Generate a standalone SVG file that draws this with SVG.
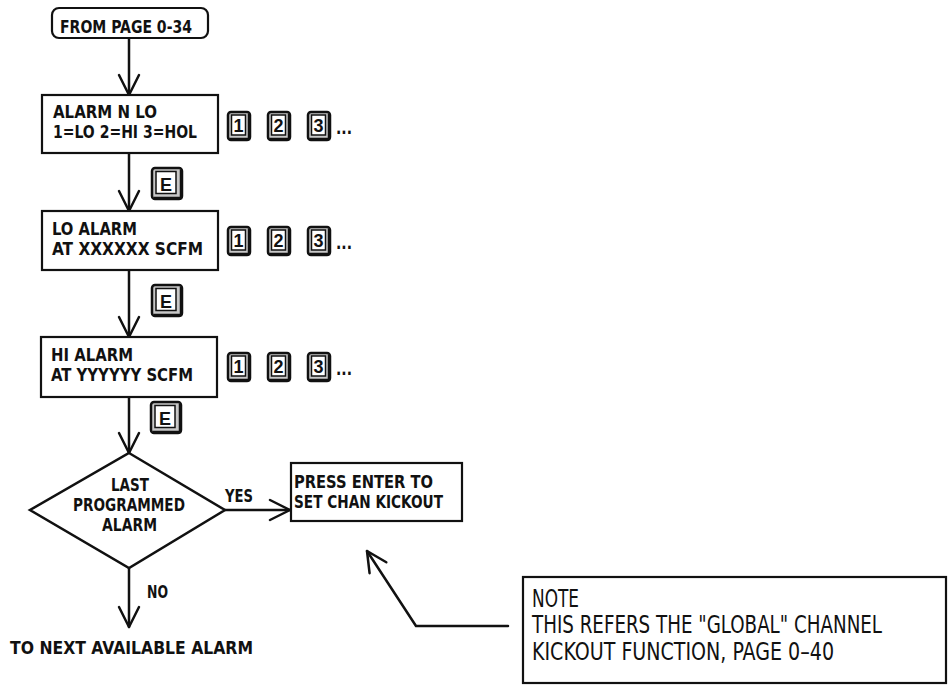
<svg xmlns="http://www.w3.org/2000/svg" width="949" height="686" viewBox="0 0 949 686">
<defs>
<style>
.bx{fill:#fff;stroke:#111;stroke-width:2.2}
.ln{fill:none;stroke:#111;stroke-width:2.5;stroke-linecap:round;stroke-linejoin:round}
.t{font-family:"Liberation Sans Narrow","DejaVu Sans Condensed","Liberation Sans",sans-serif;font-weight:bold;fill:#111;font-size:18px}
.n{font-family:"Liberation Sans Narrow","DejaVu Sans Condensed","Liberation Sans",sans-serif;fill:#111;font-size:24px}
.ko{fill:#c8c8c8;stroke:#111;stroke-width:2.5}
.ki{fill:#fff;stroke:#111;stroke-width:1.5}
.kt{font-family:"Liberation Sans",Arial,sans-serif;font-weight:bold;fill:#111;font-size:18px;text-anchor:middle}
</style>
<marker id="ah" viewBox="0 0 24 24" refX="22" refY="12" markerWidth="24" markerHeight="24" markerUnits="userSpaceOnUse" orient="auto">
<path d="M2,2 L22,12 L2,22" fill="none" stroke="#111" stroke-width="2.5" stroke-linecap="round" stroke-linejoin="round"/>
</marker>
<g id="key">
<rect class="ko" x="0" y="0" width="22" height="28" rx="3"/>
<rect class="ki" x="3.5" y="3" width="14" height="20"/>
<path d="M1.5,27 L21,27 L21,2" fill="none" stroke="#111" stroke-width="2.5"/>
</g>
<g id="ekey">
<rect class="ko" x="0" y="0" width="30" height="31" rx="3"/>
<rect class="ki" x="4" y="3.5" width="20" height="22"/>
<path d="M2,30 L29,30 L29,2" fill="none" stroke="#111" stroke-width="2.5"/>
</g>
</defs>
<rect width="949" height="686" fill="#fff"/>

<g id="connectors">
<line class="ln" x1="129" y1="38" x2="129" y2="95" marker-end="url(#ah)"/>
<line class="ln" x1="129" y1="153" x2="129" y2="211" marker-end="url(#ah)"/>
<line class="ln" x1="129" y1="270" x2="129" y2="337" marker-end="url(#ah)"/>
<line class="ln" x1="129" y1="397" x2="129" y2="453" marker-end="url(#ah)"/>
<line class="ln" x1="225" y1="510" x2="290" y2="510" marker-end="url(#ah)"/>
<line class="ln" x1="129" y1="568" x2="129" y2="627" marker-end="url(#ah)"/>
<polyline class="ln" points="508,626 416,626 367,551" marker-end="url(#ah)"/>
<text class="t" x="225" y="502" textLength="28" lengthAdjust="spacingAndGlyphs">YES</text>
<text class="t" x="147" y="598" textLength="21" lengthAdjust="spacingAndGlyphs">NO</text>
</g>

<g id="start">
<rect class="bx" x="52" y="8" width="156" height="30" rx="7"/>
<text class="t" x="60" y="33" textLength="132" lengthAdjust="spacingAndGlyphs">FROM PAGE 0-34</text>
</g>

<g id="alarm-n">
<rect class="bx" x="42" y="95" width="176" height="58"/>
<text class="t" x="53" y="118" textLength="104" lengthAdjust="spacingAndGlyphs">ALARM N LO</text>
<text class="t" x="53" y="138" textLength="144" lengthAdjust="spacingAndGlyphs">1=LO 2=HI 3=HOL</text>
</g>
<g id="keys1">
<use href="#key" x="228" y="112"/><text class="kt" x="238.5" y="132">1</text>
<use href="#key" x="268" y="112"/><text class="kt" x="278.5" y="132">2</text>
<use href="#key" x="308" y="112"/><text class="kt" x="318.5" y="132">3</text>
<text class="t" x="336" y="134" textLength="16" lengthAdjust="spacingAndGlyphs">...</text>
</g>
<g id="e1"><use href="#ekey" x="152" y="168"/><text class="kt" x="166" y="191">E</text></g>

<g id="lo-alarm">
<rect class="bx" x="42" y="211" width="176" height="59"/>
<text class="t" x="52" y="235" textLength="85" lengthAdjust="spacingAndGlyphs">LO ALARM</text>
<text class="t" x="52" y="255" textLength="151" lengthAdjust="spacingAndGlyphs">AT XXXXXX SCFM</text>
</g>
<g id="keys2">
<use href="#key" x="228" y="227"/><text class="kt" x="238.5" y="247">1</text>
<use href="#key" x="268" y="227"/><text class="kt" x="278.5" y="247">2</text>
<use href="#key" x="308" y="227"/><text class="kt" x="318.5" y="247">3</text>
<text class="t" x="336" y="249" textLength="16" lengthAdjust="spacingAndGlyphs">...</text>
</g>
<g id="e2"><use href="#ekey" x="152" y="285"/><text class="kt" x="166" y="308">E</text></g>

<g id="hi-alarm">
<rect class="bx" x="41" y="337" width="176" height="60"/>
<text class="t" x="51" y="361" textLength="82" lengthAdjust="spacingAndGlyphs">HI ALARM</text>
<text class="t" x="51" y="381" textLength="142" lengthAdjust="spacingAndGlyphs">AT YYYYYY SCFM</text>
</g>
<g id="keys3">
<use href="#key" x="228" y="353"/><text class="kt" x="238.5" y="373">1</text>
<use href="#key" x="268" y="353"/><text class="kt" x="278.5" y="373">2</text>
<use href="#key" x="308" y="353"/><text class="kt" x="318.5" y="373">3</text>
<text class="t" x="336" y="375" textLength="16" lengthAdjust="spacingAndGlyphs">...</text>
</g>
<g id="e3"><use href="#ekey" x="151" y="402"/><text class="kt" x="165" y="425">E</text></g>

<g id="decision">
<polygon class="bx" points="129,453 225,510 129,568 30,510" style="stroke-width:2.5"/>
<text class="t" x="111" y="491" textLength="38" lengthAdjust="spacingAndGlyphs">LAST</text>
<text class="t" x="73" y="511" textLength="112" lengthAdjust="spacingAndGlyphs">PROGRAMMED</text>
<text class="t" x="102" y="531" textLength="55" lengthAdjust="spacingAndGlyphs">ALARM</text>
</g>

<g id="kickout">
<rect class="bx" x="291" y="463" width="171" height="58"/>
<text class="t" x="294" y="488" textLength="139" lengthAdjust="spacingAndGlyphs">PRESS ENTER TO</text>
<text class="t" x="294" y="508" textLength="149" lengthAdjust="spacingAndGlyphs">SET CHAN KICKOUT</text>
</g>

<g id="next">
<text class="t" x="10" y="654" textLength="243" lengthAdjust="spacingAndGlyphs">TO NEXT AVAILABLE ALARM</text>
</g>

<g id="note">
<rect class="bx" x="523" y="577" width="423" height="106"/>
<text class="n" x="532" y="607" textLength="47" lengthAdjust="spacingAndGlyphs">NOTE</text>
<text class="n" x="532" y="633" textLength="350" lengthAdjust="spacingAndGlyphs">THIS REFERS THE "GLOBAL" CHANNEL</text>
<text class="n" x="532" y="660" textLength="302" lengthAdjust="spacingAndGlyphs">KICKOUT FUNCTION, PAGE  0–40</text>
</g>
</svg>
